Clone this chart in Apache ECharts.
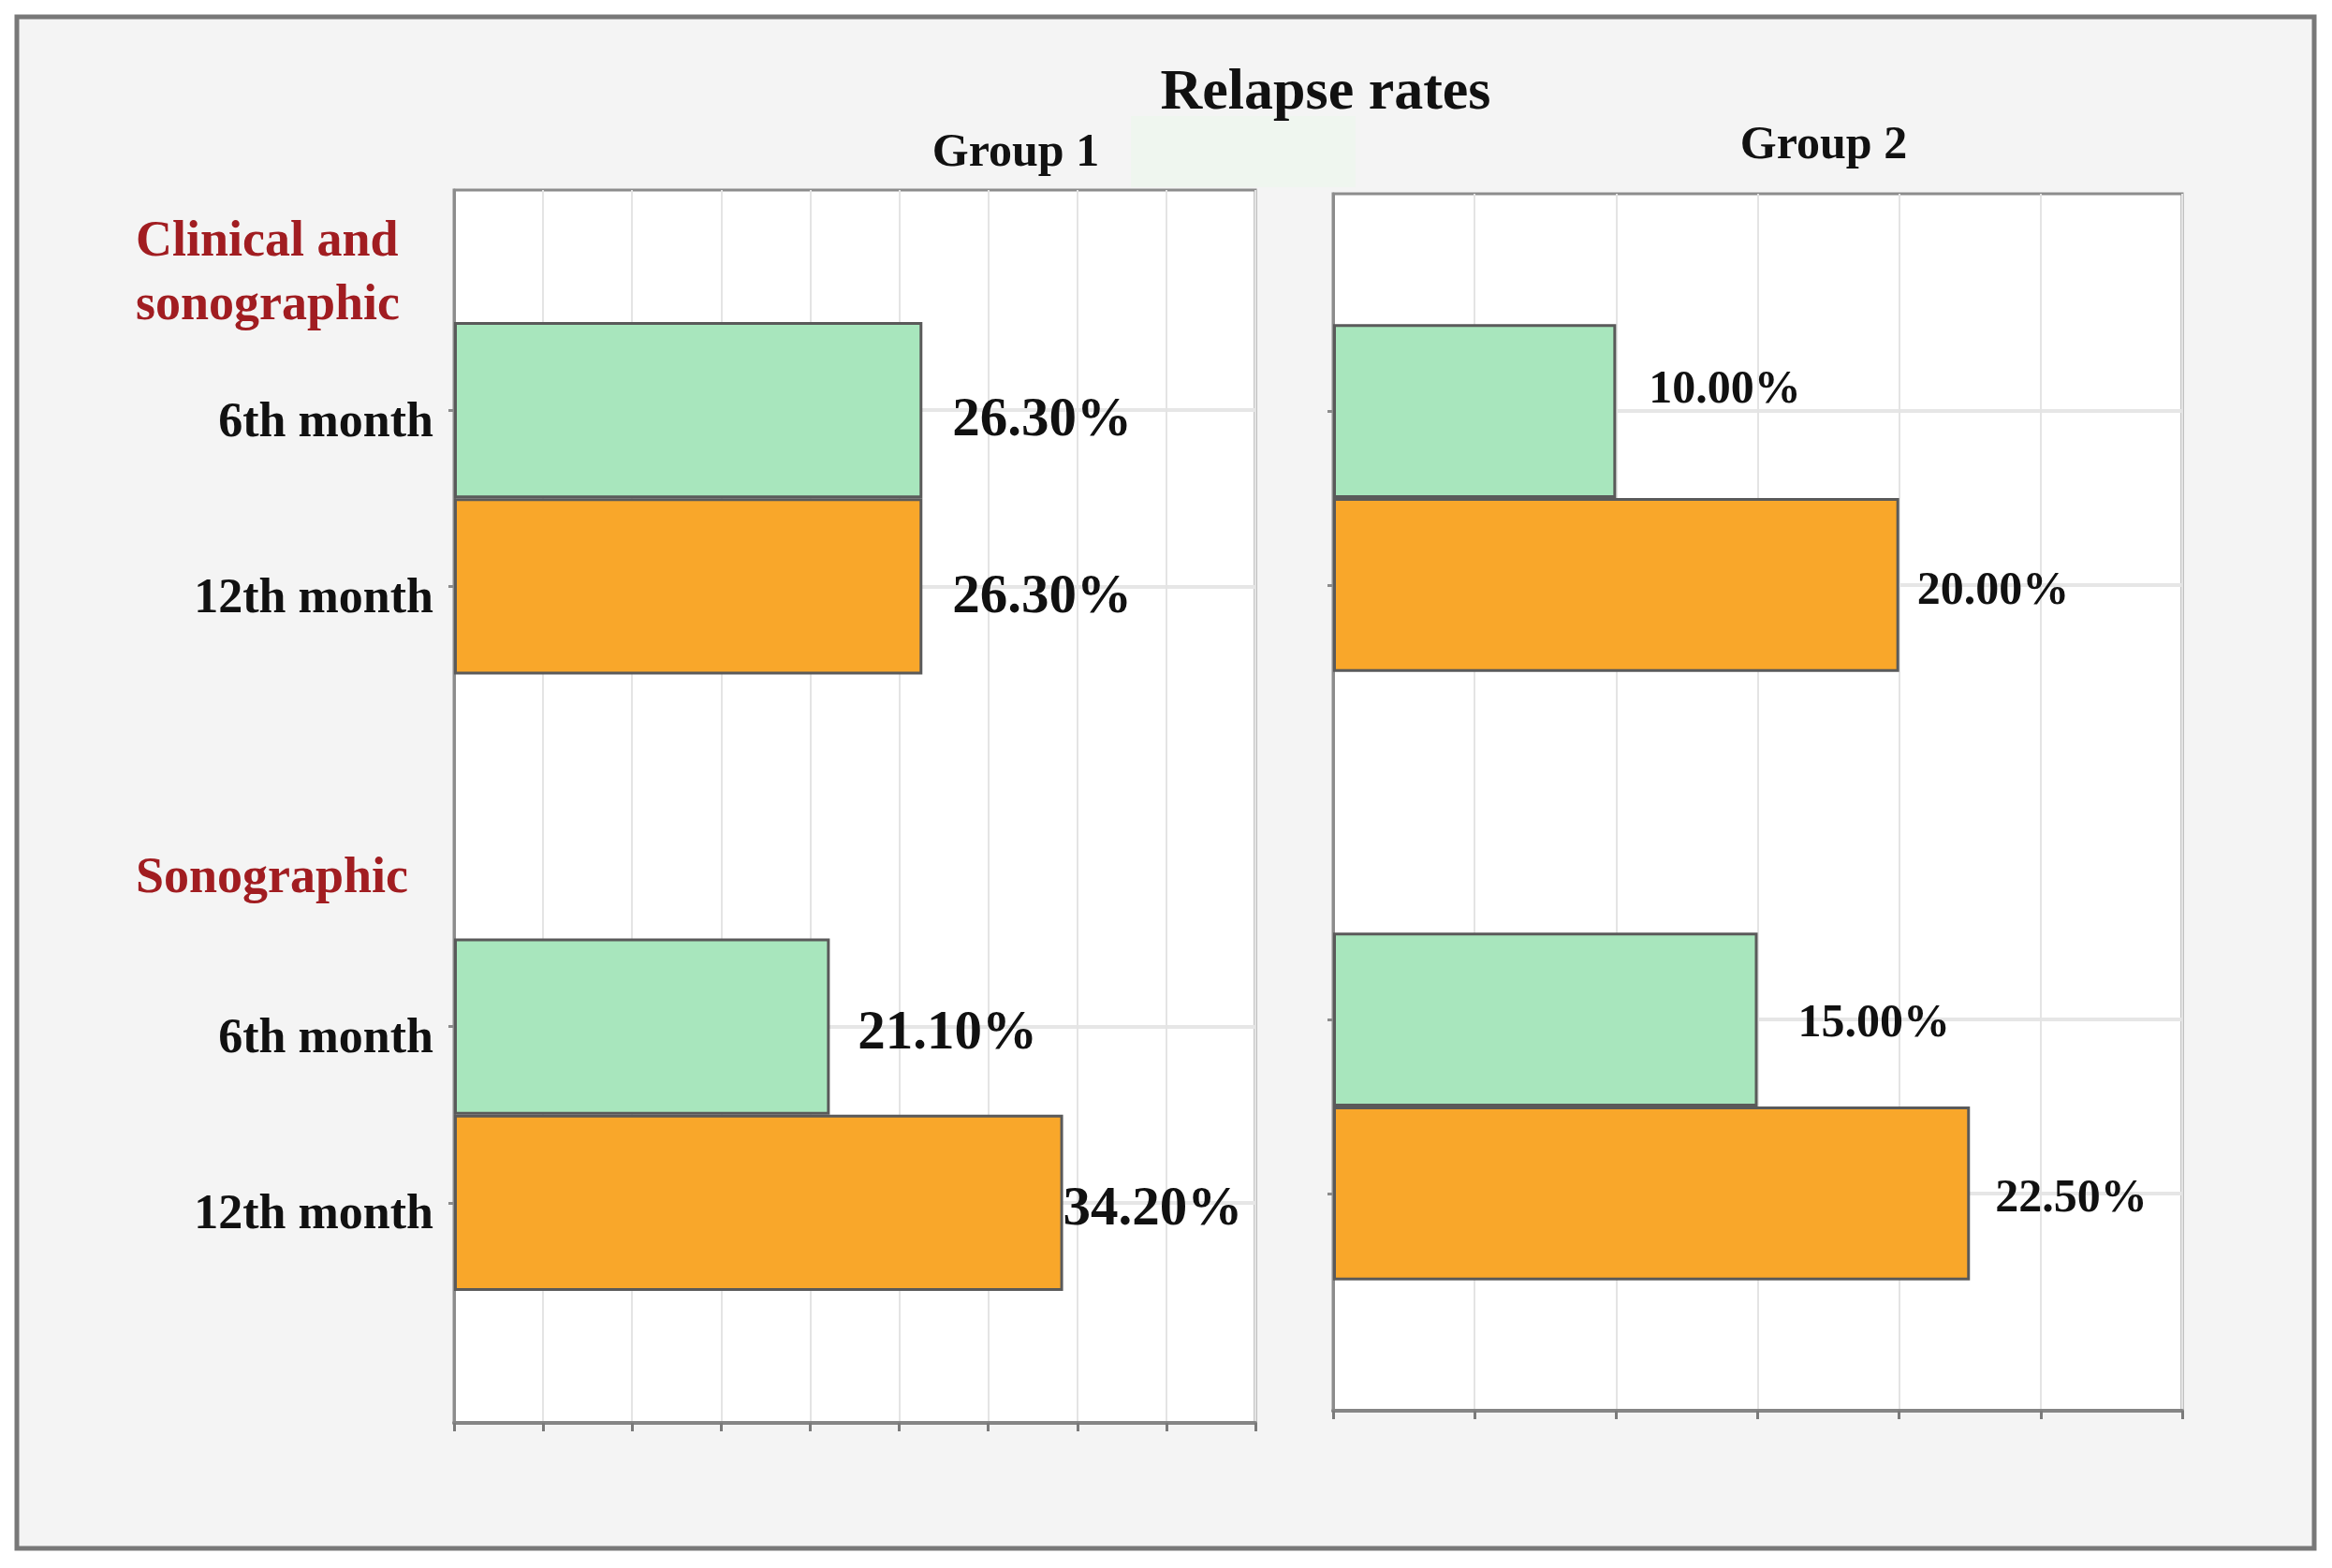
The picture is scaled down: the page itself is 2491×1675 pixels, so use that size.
<!DOCTYPE html>
<html>
<head>
  <title>Relapse rates</title>
  <script src="https://cdn.jsdelivr.net/npm/echarts@6.0.0/dist/echarts.min.js"></script>
  <style>
    html, body { margin: 0; padding: 0; background: #fff; }
  </style>
</head>
<body>
  <div id="main" style="width: 2491px; height: 1675px;"></div>

  <script>
    // data
    var chartTitle = 'Relapse rates';
    var groups = ['Group 1', 'Group 2'];
    var sections = ['Clinical and\nsonographic', 'Sonographic'];
    var months = ['6th month', '12th month'];
    // one value per section: [Clinical and sonographic, Sonographic]
    var group1Sixth = [26.3, 21.1];
    var group1Twelfth = [26.3, 34.2];
    var group2Sixth = [10.0, 15.0];
    var group2Twelfth = [20.0, 22.5];
    var axisMax = [45, 30];
    var axisStep = 5;

    // layout of the category axis (half-height slots)
    var rowCount = 14;
    var sectionRows = [[2, 4], [9, 11]];

    var serif = '"Liberation Serif", "Times New Roman", serif';
    var green = '#a8e6bd';
    var orange = '#f9a72a';

    var categories = [];
    for (var i = 0; i < rowCount; i++) categories.push('');
    sectionRows.forEach(function (rows) {
      categories[rows[0]] = months[0];
      categories[rows[1]] = months[1];
    });
    var labelled = function (index) { return categories[index] !== ''; };

    // label tweaks per bar (distance to bar end, vertical shift)
    var labelStyle = [
      { font: 59, sixth: [[32, 12], [30, 8]], twelfth: [[32, 12], [0, 8]] },
      { font: 50, sixth: [[35, -22], [43, 5]], twelfth: [[19, 7], [27, 6]] }
    ];

    function column(values, which, tweaks) {
      var out = [];
      for (var i = 0; i < rowCount; i++) out.push('-');
      sectionRows.forEach(function (rows, s) {
        out[rows[which]] = {
          value: values[s],
          label: { distance: tweaks[s][0], offset: [0, tweaks[s][1]] }
        };
      });
      return out;
    }

    function barSeries(g, name, values, which, color, tweaks) {
      return {
        name: name,
        type: 'bar',
        xAxisIndex: g,
        yAxisIndex: g,
        barWidth: '200%',
        barGap: '-100%',
        data: column(values, which, tweaks),
        itemStyle: { color: color, borderColor: '#5a5a5a', borderWidth: 3 },
        label: {
          show: true,
          position: 'right',
          color: '#111',
          fontFamily: serif,
          fontWeight: 'bold',
          fontSize: labelStyle[g].font,
          formatter: function (p) { return p.value.toFixed(2) + '%'; }
        }
      };
    }

    var grids = [
      { left: 485, top: 203, width: 856, height: 1317 },
      { left: 1424, top: 207, width: 907, height: 1300 }
    ];

    var option = {
      animation: false,
      backgroundColor: '#ffffff',
      graphic: [
        {
          type: 'rect', z: -10, silent: true,
          shape: { x: 18, y: 18, width: 2454, height: 1636 },
          style: { fill: '#f4f4f4', stroke: '#787878', lineWidth: 5 }
        },
        {
          type: 'rect', z: -9, silent: true,
          shape: { x: 1208, y: 124, width: 240, height: 76 },
          style: { fill: '#eff6ef' }
        },
        {
          type: 'text', x: 1416, y: 100,
          style: { text: chartTitle, font: 'bold 62px ' + serif, fill: '#111', align: 'center', verticalAlign: 'middle' }
        },
        {
          type: 'text', x: 1085, y: 164,
          style: { text: groups[0], font: 'bold 50px ' + serif, fill: '#111', align: 'center', verticalAlign: 'middle' }
        },
        {
          type: 'text', x: 1948, y: 156,
          style: { text: groups[1], font: 'bold 50px ' + serif, fill: '#111', align: 'center', verticalAlign: 'middle' }
        },
        {
          type: 'text', x: 145, y: 293,
          style: { text: sections[0], font: 'bold 54px ' + serif, fill: '#a11d21', lineHeight: 68, verticalAlign: 'middle' }
        },
        {
          type: 'text', x: 145, y: 939,
          style: { text: sections[1], font: 'bold 54px ' + serif, fill: '#a11d21', verticalAlign: 'middle' }
        }
      ],
      grid: grids.map(function (g) {
        return {
          left: g.left, top: g.top, width: g.width, height: g.height,
          show: true, backgroundColor: '#ffffff', borderColor: '#8c8c8c', borderWidth: 3
        };
      }),
      xAxis: axisMax.map(function (max, g) {
        return {
          type: 'value', gridIndex: g, min: 0, max: max, interval: axisStep,
          axisLabel: { show: false },
          axisLine: { show: true, lineStyle: { color: '#858585', width: 4 } },
          axisTick: { show: true, length: 9, lineStyle: { color: '#7a7a7a', width: 3 } },
          splitLine: { show: true, lineStyle: { color: '#e4e4e4', width: 2 } }
        };
      }),
      yAxis: [0, 1].map(function (g) {
        return {
          type: 'category', gridIndex: g, inverse: true, data: categories,
          axisLine: { show: true, lineStyle: { color: '#8c8c8c', width: 3 } },
          axisTick: { show: true, alignWithLabel: true, interval: labelled, length: 6, lineStyle: { color: '#8c8c8c', width: 3 } },
          axisLabel: {
            show: g === 0, interval: 0, margin: 22, color: '#111',
            fontFamily: serif, fontWeight: 'bold', fontSize: 52,
            formatter: function (v) { return v ? '{m|' + v + '}' : ''; },
            rich: {
              m: {
                color: '#111', fontFamily: serif, fontWeight: 'bold', fontSize: 52,
                padding: [28, 0, 0, 0]
              }
            }
          },
          splitLine: { show: true, alignWithLabel: true, interval: labelled, lineStyle: { color: '#e6e6e6', width: 4 } }
        };
      }),
      series: [
        barSeries(0, months[0], group1Sixth, 0, green, labelStyle[0].sixth),
        barSeries(0, months[1], group1Twelfth, 1, orange, labelStyle[0].twelfth),
        barSeries(1, months[0], group2Sixth, 0, green, labelStyle[1].sixth),
        barSeries(1, months[1], group2Twelfth, 1, orange, labelStyle[1].twelfth)
      ]
    };

    var myChart = echarts.init(document.getElementById('main'));
    myChart.setOption(option);
  </script>
</body>
</html>
